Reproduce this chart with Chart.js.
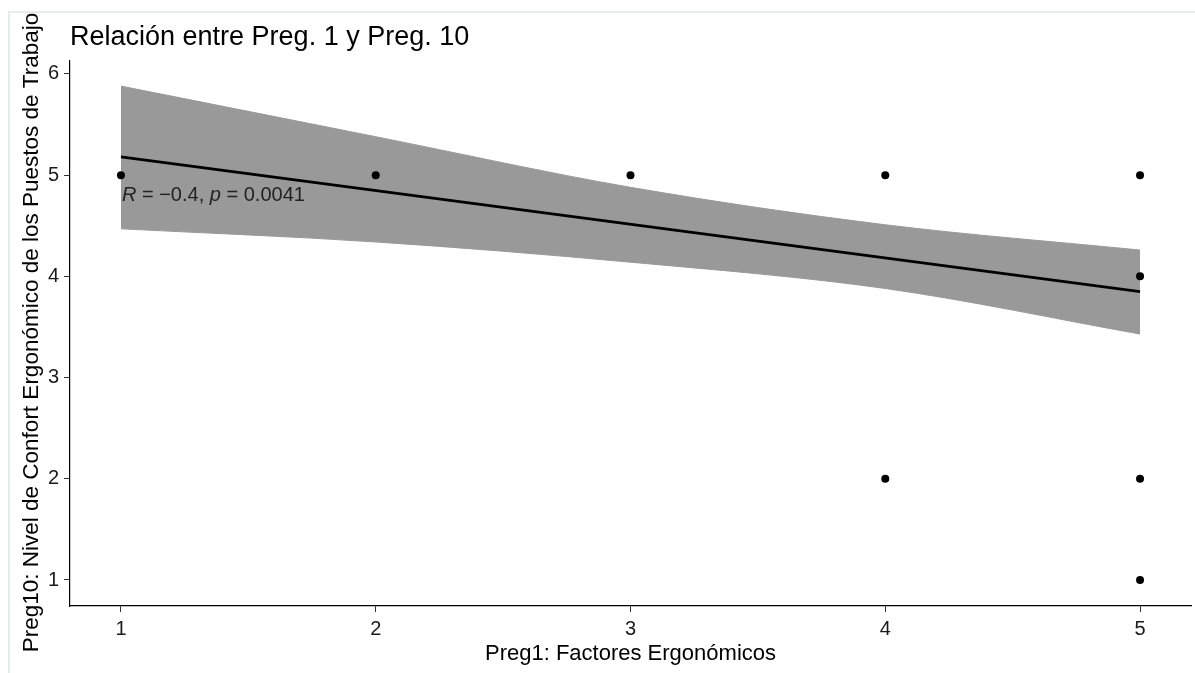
<!DOCTYPE html>
<html>
<head>
<meta charset="utf-8">
<script src="https://cdn.jsdelivr.net/npm/chart.js@4.4.0/dist/chart.umd.min.js"></script>
<style>
  body { margin: 0; background: #fff; }
  #wrap { position: relative; width: 1195px; height: 673px; }
  #frame { position: absolute; left: 8px; top: 11px; right: 0; bottom: 0;
           border-top: 2px solid #e6ebeb; border-left: 2px solid #e6ebeb; pointer-events: none; }
</style>
</head>
<body>
<div id="wrap">
  <canvas id="chart" width="1195" height="673"></canvas>
  <div id="frame"></div>
</div>
<script>
// DATA
const preg1 = [1, 2, 3, 4, 5, 5, 4, 5, 5];
const preg10 = [5, 5, 5, 5, 5, 4, 2, 2, 1];

// regression line and its confidence band
const fitX = [1, 5];
const fitY = [5.18, 3.85];
const bandX = [1, 2, 3, 4, 5];
const bandUpper = [5.88, 5.38, 4.88, 4.51, 4.26];
const bandLower = [4.47, 4.34, 4.14, 3.88, 3.43];

const xTicks = [1, 2, 3, 4, 5];
const yTicks = [1, 2, 3, 4, 5, 6];

const titleText = "Relación entre Preg. 1 y Preg. 10";
const xTitle = "Preg1: Factores Ergonómicos";
const yTitle = "Preg10: Nivel de Confort Ergonómico de los Puestos de Trabajo";
const annot = { x: 1, y: 4.82, r: "-0.4", p: "0.0041" };

const FONT = "'Liberation Sans', Arial, sans-serif";

function pts(xs, ys) {
  return xs.map((v, i) => ({ x: v, y: ys[i] }));
}

// TEXT (title, axis titles, R / p label)
const textPlugin = {
  id: "texts",
  afterDraw(chart) {
    const { ctx, chartArea, scales } = chart;
    ctx.save();
    ctx.fillStyle = "#000";
    ctx.textBaseline = "alphabetic";

    ctx.font = "27px " + FONT;
    ctx.textAlign = "left";
    ctx.fillText(titleText, chartArea.left, 45);

    ctx.font = "22px " + FONT;
    ctx.textAlign = "center";
    ctx.fillText(xTitle, (chartArea.left + chartArea.right) / 2, 660);

    ctx.save();
    ctx.font = "22.5px " + FONT;
    ctx.translate(38, (chartArea.top + chartArea.bottom) / 2 - 1);
    ctx.rotate(-Math.PI / 2);
    ctx.fillText(yTitle, 0, 0);
    ctx.restore();

    // R = -0.4, p = 0.0041
    let px = scales.x.getPixelForValue(annot.x) + 1;
    const py = scales.y.getPixelForValue(annot.y) + 8;
    ctx.fillStyle = "#222";
    ctx.textAlign = "left";
    const parts = [
      ["italic ", "R"],
      ["", " = \u2212" + annot.r.replace("-", "") + ", "],
      ["italic ", "p"],
      ["", " = " + annot.p]
    ];
    parts.forEach(([style, txt]) => {
      ctx.font = style + "20px " + FONT;
      ctx.fillText(txt, px, py);
      px += ctx.measureText(txt).width;
    });
    ctx.restore();
  }
};

// CHART
const axisTicks = { font: { family: FONT, size: 20 }, color: "#1a1a1a" };
const bandStyle = {
  showLine: true,
  pointRadius: 0,
  borderWidth: 1,
  borderColor: "#999999",
  cubicInterpolationMode: "monotone",
  order: 3
};

new Chart(document.getElementById("chart"), {
  type: "scatter",
  data: {
    datasets: [
      { ...bandStyle, label: "upper", data: pts(bandX, bandUpper), backgroundColor: "#999999", fill: "+1" },
      { ...bandStyle, label: "lower", data: pts(bandX, bandLower), fill: false },
      {
        label: "fit",
        data: pts(fitX, fitY),
        showLine: true,
        pointRadius: 0,
        borderWidth: 2.8,
        borderColor: "#000",
        order: 2
      },
      {
        label: "data",
        data: pts(preg1, preg10),
        pointRadius: 4,
        pointBorderWidth: 0,
        backgroundColor: "#000",
        order: 1
      }
    ]
  },
  options: {
    responsive: false,
    animation: false,
    layout: { padding: { left: 8, top: 61, right: 1, bottom: 0 } },
    plugins: { legend: { display: false }, tooltip: { enabled: false } },
    scales: {
      x: {
        type: "linear",
        min: 0.8,
        max: 5.2,
        afterFit: s => { s.height = 67; },
        afterBuildTicks: s => { s.ticks = xTicks.map(v => ({ value: v })); },
        grid: { drawOnChartArea: false, tickLength: 6, color: "#333" },
        border: { color: "#000", width: 1.2 },
        ticks: { ...axisTicks, padding: 5, maxRotation: 0 }
      },
      y: {
        type: "linear",
        min: 0.743,
        max: 6.128,
        afterFit: s => { s.width = 62; },
        afterBuildTicks: s => { s.ticks = yTicks.map(v => ({ value: v })); },
        grid: { drawOnChartArea: false, tickLength: 6, color: "#333" },
        border: { color: "#000", width: 1.2 },
        ticks: { ...axisTicks, padding: 5 }
      }
    }
  },
  plugins: [textPlugin]
});
</script>
</body>
</html>
